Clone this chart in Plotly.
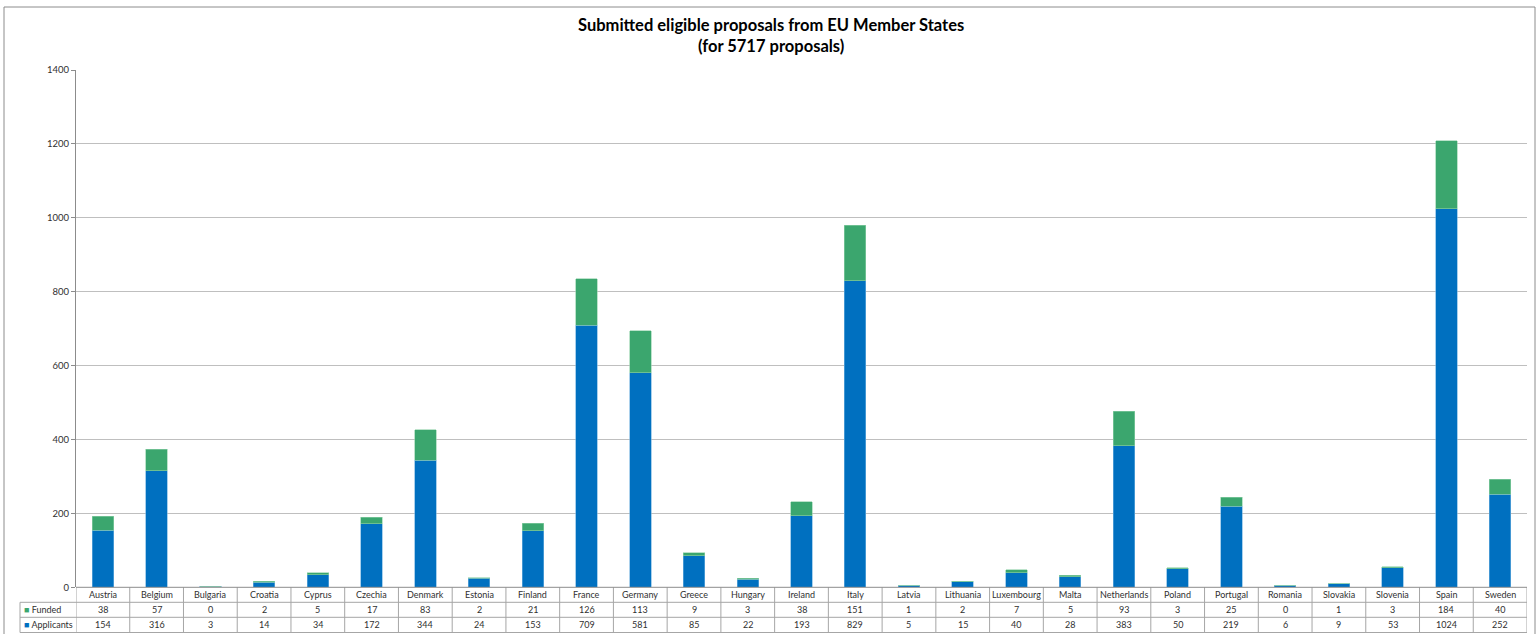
import plotly.graph_objects as go

countries = ["Austria", "Belgium", "Bulgaria", "Croatia", "Cyprus", "Czechia", "Denmark", "Estonia",
             "Finland", "France", "Germany", "Greece", "Hungary", "Ireland", "Italy", "Latvia",
             "Lithuania", "Luxembourg", "Malta", "Netherlands", "Poland", "Portugal", "Romania",
             "Slovakia", "Slovenia", "Spain", "Sweden"]
funded = [38, 57, 0, 2, 5, 17, 83, 2, 21, 126, 113, 9, 3, 38, 151, 1, 2, 7, 5, 93, 3, 25, 0, 1, 3, 184, 40]
applicants = [154, 316, 3, 14, 34, 172, 344, 24, 153, 709, 581, 85, 22, 193, 829, 5, 15, 40, 28, 383,
              50, 219, 6, 9, 53, 1024, 252]
y_ticks = [0, 200, 400, 600, 800, 1000, 1200, 1400]

W, H = 1539, 634
BLUE = "#0070C0"
GREEN = "#3BA66E"
FONT = "Lato"

x_left, x_right = 76, 1527
y_top, y_zero = 70, 587.3

def px(x):
    return x / W

def py(y):
    return 1 - y / H

n = len(countries)
idx = list(range(n))

fig = go.Figure()
fig.add_trace(go.Bar(x=idx, y=applicants, name="Applicants", marker=dict(color=BLUE, line=dict(width=0.6, color="#6fb0e0")), width=0.4))
fig.add_trace(go.Bar(x=idx, y=funded, name="Funded", marker=dict(color=GREEN, line=dict(width=0.6, color="#8fd0a8")), width=0.4))

shapes = []
annotations = []
line_col = "#A6A6A6"
r0, r1, r2, r3 = y_zero, 602.3, 617.3, 632.5
tbl_left = 20
for yy, x0 in [(r1, tbl_left), (r2, tbl_left), (r3, tbl_left)]:
    shapes.append(dict(type="line", xref="paper", yref="paper", x0=px(x0), x1=px(x_right),
                       y0=py(yy), y1=py(yy), line=dict(color=line_col, width=1)))
for i in range(n + 1):
    shapes.append(dict(type="line", xref="x", yref="paper", x0=i - 0.5, x1=i - 0.5,
                       y0=py(r0), y1=py(r3), line=dict(color=line_col, width=1)))
shapes.append(dict(type="line", xref="paper", yref="paper", x0=px(tbl_left), x1=px(tbl_left),
                   y0=py(r1), y1=py(r3), line=dict(color=line_col, width=1)))
for (x0, y0, x1, y1) in [(4, 7, 1535, 7), (4, 7, 4, H), (1535, 7, 1535, H)]:
    shapes.append(dict(type="line", xref="paper", yref="paper", x0=px(x0), x1=px(x1),
                       y0=py(y0), y1=py(y1), line=dict(color="#8C8C8C", width=1)))

tfont = dict(family=FONT, size=9, color="#303030")
for i, c in enumerate(countries):
    annotations.append(dict(x=i, y=py((r0 + r1) / 2), xref="x", yref="paper", text=c,
                            showarrow=False, font=tfont, xanchor="center", yanchor="middle"))
    annotations.append(dict(x=i, y=py((r1 + r2) / 2), xref="x", yref="paper", text=str(funded[i]),
                            showarrow=False, font=tfont, xanchor="center", yanchor="middle"))
    annotations.append(dict(x=i, y=py((r2 + r3) / 2), xref="x", yref="paper", text=str(applicants[i]),
                            showarrow=False, font=tfont, xanchor="center", yanchor="middle"))
annotations.append(dict(x=px(22), y=py((r1 + r2) / 2), xref="paper", yref="paper",
                        text=f"<span style='color:{GREEN}'>■</span> Funded", showarrow=False,
                        font=tfont, xanchor="left", yanchor="middle"))
annotations.append(dict(x=px(22), y=py((r2 + r3) / 2), xref="paper", yref="paper",
                        text=f"<span style='color:{BLUE}'>■</span> Applicants", showarrow=False,
                        font=tfont, xanchor="left", yanchor="middle"))
annotations.append(dict(x=px(771), y=py(36), xref="paper", yref="paper",
                        text="<b>Submitted eligible proposals from EU Member States<br>(for 5717 proposals)</b>",
                        showarrow=False, font=dict(family=FONT, size=16.5, color="#000000"),
                        xanchor="center", yanchor="middle", align="center"))

fig.update_layout(
    width=W, height=H, autosize=False,
    margin=dict(l=0, r=0, t=0, b=0, pad=0, autoexpand=False),
    paper_bgcolor="white", plot_bgcolor="white",
    barmode="stack", showlegend=False,
    shapes=shapes, annotations=annotations,
    xaxis=dict(domain=[px(x_left), px(x_right)], range=[-0.5, n - 0.5], showticklabels=False,
               showgrid=False, zeroline=False, showline=False, ticks="", fixedrange=True,
               automargin=False),
    yaxis=dict(domain=[py(y_zero), py(y_top)], range=[0, 1400], tickvals=y_ticks,
               showgrid=True, gridcolor="#BFBFBF", gridwidth=1, zeroline=False,
               showline=True, linecolor="#8C8C8C", linewidth=1,
               ticks="outside", ticklen=4, tickcolor="#8C8C8C", automargin=False,
               tickfont=dict(family=FONT, size=9.5, color="#303030"), fixedrange=True),
)
fig.add_shape(type="line", xref="paper", yref="paper", x0=px(x_left), x1=px(x_right),
              y0=py(y_zero), y1=py(y_zero), line=dict(color="#8C8C8C", width=1))

post = ("var de=document.documentElement;de.style.margin='0';de.style.padding='0';"
        "de.style.height='634px';de.style.overflow='hidden';"
        "var b=document.body;b.style.margin='0';b.style.padding='0';"
        "b.style.height='634px';b.style.overflow='hidden';"
        "var gd=document.getElementById('{plot_id}');"
        "if(gd&&gd.parentElement){var p=gd.parentElement;p.style.margin='0';p.style.height='634px';"
        "p.style.overflow='hidden';p.style.lineHeight='0';p.style.fontSize='0';}"
        "Plotly.relayout(gd,{width:1539,height:634});")
fig.write_html("out.html", post_script=post, config={"displayModeBar": False, "staticPlot": True})
